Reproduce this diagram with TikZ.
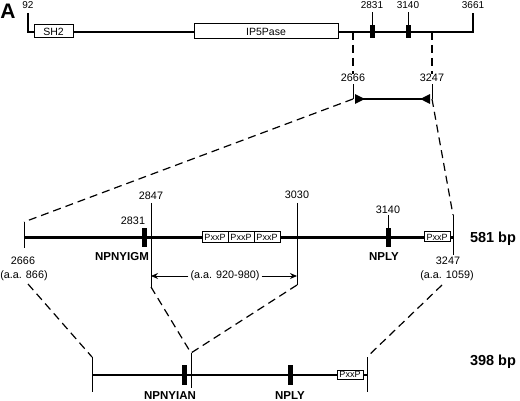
\documentclass[tikz,border=0pt]{standalone}
\usepackage{fontspec}
\setmainfont{Liberation Sans}
\usetikzlibrary{arrows.meta}
\begin{document}
\begin{tikzpicture}[x=1pt,y=-1pt,
  lbl/.style={font=\fontsize{10.8}{12}\selectfont, inner sep=0pt},
  slbl/.style={font=\fontsize{10}{11}\selectfont, inner sep=0pt},
  blbl/.style={font=\fontsize{11.5}{13}\selectfont\bfseries, inner sep=0pt},
  bplbl/.style={font=\fontsize{14.5}{16}\selectfont\bfseries, inner sep=0pt},
  dom/.style={draw, line width=1pt, fill=white, inner sep=0pt, font=\fontsize{10.5}{11}\selectfont},
  pxp/.style={draw, line width=1pt, fill=white, inner sep=0pt, minimum width=26pt, font=\fontsize{9}{9}\selectfont},
  motif/.style={fill=black, draw=none, inner sep=0pt, minimum width=5pt},
  thinln/.style={line width=1pt},
  dsh/.style={line width=1.2pt, dash pattern=on 8pt off 5pt},
]
\useasboundingbox (0,0) rectangle (520,401);

% ---------- top protein ----------
\node[font=\fontsize{21}{22}\selectfont\bfseries, inner sep=0pt] (A) at (8,11) {A};
\coordinate (t0) at (28,13);
\coordinate (t1) at (28,32);
\coordinate (t2) at (473,32);
\coordinate (t3) at (473,13);
\draw[line width=2.2pt] (t0) -- (t1) -- (t2) -- (t3);
\node[slbl] (l92) at (28,5) {92};
\node[slbl] (l3661) at (473,5) {3661};
\node[dom, minimum width=39pt, minimum height=13pt] (sh2) at (53.5,31.5) {SH2};
\node[dom, minimum width=144pt, minimum height=15pt] (ip5) at (266,31.5) {IP5Pase};
\node[motif, minimum height=13pt] (m1) at (372,31.5) {};
\node[motif, minimum height=13pt] (m2) at (408,31.5) {};
\node[slbl] (l2831t) at (372,5) {2831};
\node[slbl] (l3140t) at (408,5) {3140};
\draw[thinln] (m1.north) -- (372,12);
\draw[thinln] (m2.north) -- (408,12);

% dashed drops
\coordinate (d1) at (353,32);
\coordinate (d2) at (432,32);
\node[lbl] (l2666a) at (353,78) {2666};
\node[lbl] (l3247a) at (432,78) {3247};
\draw[dsh] (d1) -- (l2666a.north);
\draw[dsh] (d2) -- (l3247a.north);
\coordinate (e1) at (353,99);
\coordinate (e2) at (432,99);
\draw[thinln] (l2666a.south) ++(0,2) -- (e1);
\draw[thinln] (l3247a.south) ++(0,2) -- (e2);
\draw[line width=2.5pt, {Triangle[reversed,length=10pt,width=9pt]}-{Triangle[reversed,length=10pt,width=9pt]}] (355,99) -- (430,99);

% ---------- middle fragment ----------
\coordinate (ml0) at (24,222);
\coordinate (ml1) at (24,248);
\coordinate (mr0) at (453,215);
\coordinate (mr1) at (453,255);
\draw[dsh] (e1) -- (ml0);
\draw[dsh] (e2) -- (mr0);
\draw[thinln] (ml0) -- (ml1);
\draw[thinln] (mr0) -- (mr1);
\draw[line width=3pt] (24,238) -- (453,238);

\coordinate (c2847t) at (151,203);
\coordinate (c2847b) at (151,287);
\coordinate (c3030t) at (297,203);
\coordinate (c3030b) at (297,285);
\draw[thinln] (c2847t) -- (c2847b);
\draw[thinln] (c3030t) -- (c3030b);
\node[lbl] (l2847) at (151,196) {2847};
\node[lbl] (l3030) at (297,195) {3030};

\node[pxp, minimum height=11pt] (p1) at (215,237.5) {PxxP};
\node[pxp, minimum height=11pt] (p2) at (241,237.5) {PxxP};
\node[pxp, minimum height=11pt] (p3) at (267,237.5) {PxxP};
\node[pxp, minimum height=10pt] (p4) at (437,237) {PxxP};

\node[motif, minimum height=19pt] (m3) at (144,237.5) {};
\node[lbl] (l2831m) at (133,221) {2831};
\node[blbl] (npnyigm) at (122,257) {NPNYIGM};
\node[motif, minimum height=19pt] (m4) at (388,237.5) {};
\node[lbl] (l3140m) at (388,210) {3140};
\draw[thinln] (m4.north) -- (388,215);
\node[blbl] (nply1) at (384,257) {NPLY};

\node[lbl] (l2666) at (23,261) {2666};
\node[lbl] (aa866) at (24,276) {(a.a. 866)};
\node[lbl] (l3247) at (448,261) {3247};
\node[lbl] (aa1059) at (447,276) {(a.a. 1059)};
\node[bplbl] (bp581) at (493,239) {581 bp};

\node[lbl, fill=white, inner xsep=2pt] (aa920) at (225,276) {(a.a. 920-980)};
\draw[thinln, -{Stealth[length=7pt,width=6pt]}] (aa920.west) -- (c2847b |- aa920);
\draw[thinln, -{Stealth[length=7pt,width=6pt]}] (aa920.east) -- (c3030b |- aa920);

% ---------- bottom fragment ----------
\coordinate (bl0) at (92,357);
\coordinate (bl1) at (92,392);
\coordinate (br0) at (367,357);
\coordinate (br1) at (367,392);
\coordinate (bm0) at (191,353);
\coordinate (bm1) at (191,388);
\coordinate (ds1) at (28,284);
\coordinate (ds2) at (442,285);
\draw[dsh] (ds1) -- (bl0);
\draw[dsh] (c2847b) -- (bm0);
\draw[dsh] (c3030b) -- (bm0);
\draw[dsh] (ds2) -- (br0);
\draw[thinln] (bl0) -- (bl1);
\draw[thinln] (br0) -- (br1);
\draw[line width=2.5pt] (92,375) -- (367,375);
\node[motif, minimum height=20pt] (m5) at (184,375) {};
\node[motif, minimum height=20pt] (m6) at (290,375) {};
\draw[thinln] (bm0) -- (bm1);
\node[pxp, minimum height=9pt] (p5) at (350,374.5) {PxxP};
\node[blbl] (npnyian) at (170,396) {NPNYIAN};
\node[blbl] (nply2) at (290,396) {NPLY};
\node[bplbl] (bp398) at (493,362) {398 bp};
\end{tikzpicture}
\end{document}
